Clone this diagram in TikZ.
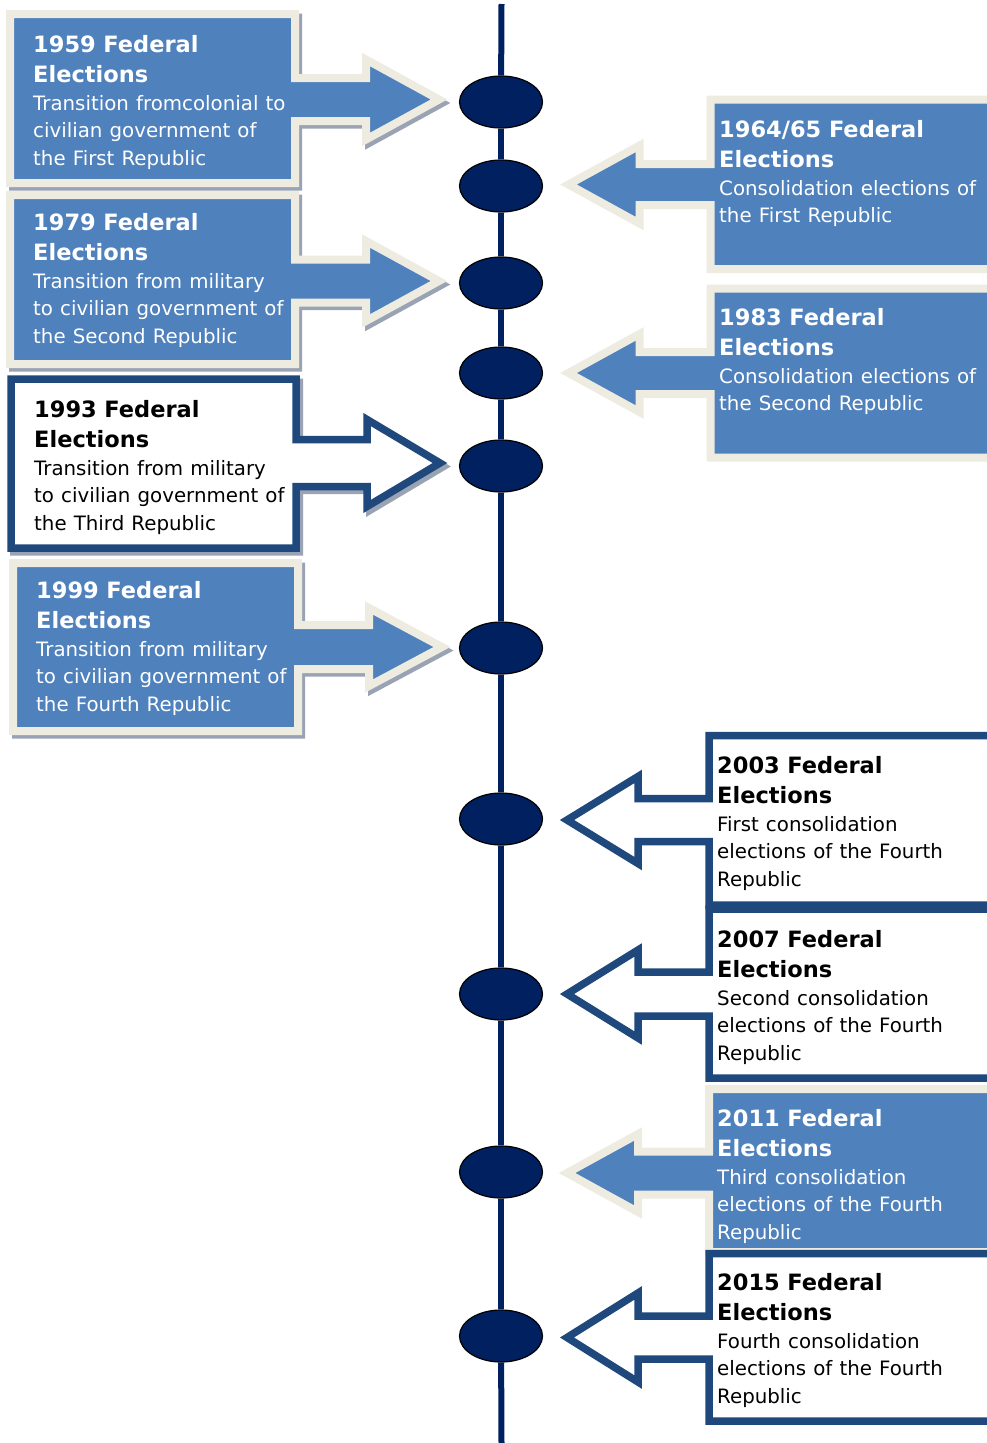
\documentclass[tikz,border=0pt]{standalone}
\usepackage{fontspec}
\setmainfont{DejaVu Sans}
\usetikzlibrary{shapes.geometric}
\definecolor{bluefill}{HTML}{4F81BD}
\definecolor{creamc}{HTML}{EEECE1}
\definecolor{darkc}{HTML}{1F497D}
\definecolor{navyc}{HTML}{002060}
\definecolor{shadowc}{HTML}{9AA3B4}
\newcommand{\captl}{\fontsize{22.5}{30.5}\selectfont\bfseries\spaceskip=0.34em\relax}
\newcommand{\capbd}{\fontsize{19.8}{27.5}\selectfont\mdseries\spaceskip=0.36em\relax}
\tikzset{
  bluecall/.style={fill=bluefill, draw=creamc, line width=8pt, line join=miter},
  whitecall/.style={fill=white, draw=darkc, line width=7.5pt, line join=miter},
  shadowcall/.style={fill=shadowc, draw=shadowc, line width=8pt, line join=miter},
  dot/.style={ellipse, minimum width=83pt, minimum height=52pt, inner sep=0pt, fill=navyc, draw=black, line width=1.2pt},
  tline/.style={draw=navyc, line width=6pt},
  ctext/.style={anchor=base west, inner sep=0pt, text width=300pt, align=left},
}
% style, x1, y1, y2, c, s, h  (arrow pointing right)
\newcommand{\calloutL}[7]{%
  \filldraw[shadowcall] (#2+3,#3+3.5) -- (#2+288,#3+3.5) -- (#2+288,#5-#6+3.5) -- (#2+359,#5-#6+3.5) -- (#2+359,#5-#7+3.5) -- (#2+432,#5+3.5) -- (#2+359,#5+#7+3.5) -- (#2+359,#5+#6+3.5) -- (#2+288,#5+#6+3.5) -- (#2+288,#4+3.5) -- (#2+3,#4+3.5) -- cycle;
  \filldraw[#1] (#2,#3) -- (#2+285,#3) -- (#2+285,#5-#6) -- (#2+356,#5-#6) -- (#2+356,#5-#7) -- (#2+429,#5) -- (#2+356,#5+#7) -- (#2+356,#5+#6) -- (#2+285,#5+#6) -- (#2+285,#4) -- (#2,#4) -- cycle;}
% style, x1, y1, y2, c, s, h  (arrow pointing left)
\newcommand{\calloutR}[7]{%
  \filldraw[#1] (1010,#3) -- (#2,#3) -- (#2,#5-#6) -- (#2-71,#5-#6) -- (#2-71,#5-#7) -- (#2-142,#5) -- (#2-71,#5+#7) -- (#2-71,#5+#6) -- (#2,#5+#6) -- (#2,#4) -- (1010,#4) -- cycle;}
\begin{document}
\begin{tikzpicture}[x=1pt, y=-1pt]
\useasboundingbox (0,0) rectangle (987,1443);
\clip (0,0) rectangle (987,1443);

% timeline dots
\node[dot] (e1) at (501,102) {};
\node[dot] (e2) at (501,186) {};
\node[dot] (e3) at (501,283) {};
\node[dot] (e4) at (501,373) {};
\node[dot] (e5) at (501,466) {};
\node[dot] (e6) at (501,648) {};
\node[dot] (e7) at (501,819) {};
\node[dot] (e8) at (501,994) {};
\node[dot] (e9) at (501,1172) {};
\node[dot] (e10) at (501,1336) {};
\coordinate (ttop) at (501.5,4);
\coordinate (tbot) at (501.5,1443);
\draw[tline] (ttop) -- (e1);
\draw[tline] (e1) -- (e2);
\draw[tline] (e2) -- (e3);
\draw[tline] (e3) -- (e4);
\draw[tline] (e4) -- (e5);
\draw[tline] (e5) -- (e6);
\draw[tline] (e6) -- (e7);
\draw[tline] (e7) -- (e8);
\draw[tline] (e8) -- (e9);
\draw[tline] (e9) -- (e10);
\draw[tline] (e10) -- (tbot);

% left callouts
\calloutL{bluecall}{10}{14}{183}{99.5}{21.5}{40}
\calloutL{bluecall}{10}{195}{364}{281}{21.5}{40}
\calloutL{whitecall}{11}{379}{548}{463}{23.5}{43.5}
\calloutL{bluecall}{13}{563}{731}{647}{22}{39}

% right callouts
\calloutR{bluecall}{710.5}{99.5}{269}{184.5}{20.5}{39}
\calloutR{bluecall}{710.5}{288.5}{457.5}{373}{21}{39}
\calloutR{whitecall}{709}{735.5}{905}{820}{21.5}{43.5}
\calloutR{whitecall}{709}{909}{1078}{994}{22}{44}
\calloutR{bluecall}{709}{1089}{1252}{1173}{21.5}{39}
\calloutR{whitecall}{709}{1253.5}{1421}{1337.5}{21.5}{44.5}

% texts
\node[ctext, text=white] (t1959) at (33,52) {\captl 1959 Federal\\Elections\par\capbd Transition fromcolonial to\\civilian government of\\the First Republic\par};
\node[ctext, text=white] (t1979) at (33,230) {\captl 1979 Federal\\Elections\par\capbd Transition from military\\to civilian government of\\the Second Republic\par};
\node[ctext, text=black] (t1993) at (34,417) {\captl 1993 Federal\\Elections\par\capbd Transition from military\\to civilian government of\\the Third Republic\par};
\node[ctext, text=white] (t1999) at (36,598) {\captl 1999 Federal\\Elections\par\capbd Transition from military\\to civilian government of\\the Fourth Republic\par};
\node[ctext, text=white] (t1964) at (719,137) {\captl 1964/65 Federal\\Elections\par\capbd Consolidation elections of\\the First Republic\par};
\node[ctext, text=white] (t1983) at (719,325) {\captl 1983 Federal\\Elections\par\capbd Consolidation elections of\\the Second Republic\par};
\node[ctext, text=black] (t2003) at (717,773) {\captl 2003 Federal\\Elections\par\capbd First consolidation\\elections of the Fourth\\Republic\par};
\node[ctext, text=black] (t2007) at (717,947) {\captl 2007 Federal\\Elections\par\capbd Second consolidation\\elections of the Fourth\\Republic\par};
\node[ctext, text=white] (t2011) at (717,1126) {\captl 2011 Federal\\Elections\par\capbd Third consolidation\\elections of the Fourth\\Republic\par};
\node[ctext, text=black] (t2015) at (717,1290) {\captl 2015 Federal\\Elections\par\capbd Fourth consolidation\\elections of the Fourth\\Republic\par};
\end{tikzpicture}
\end{document}
